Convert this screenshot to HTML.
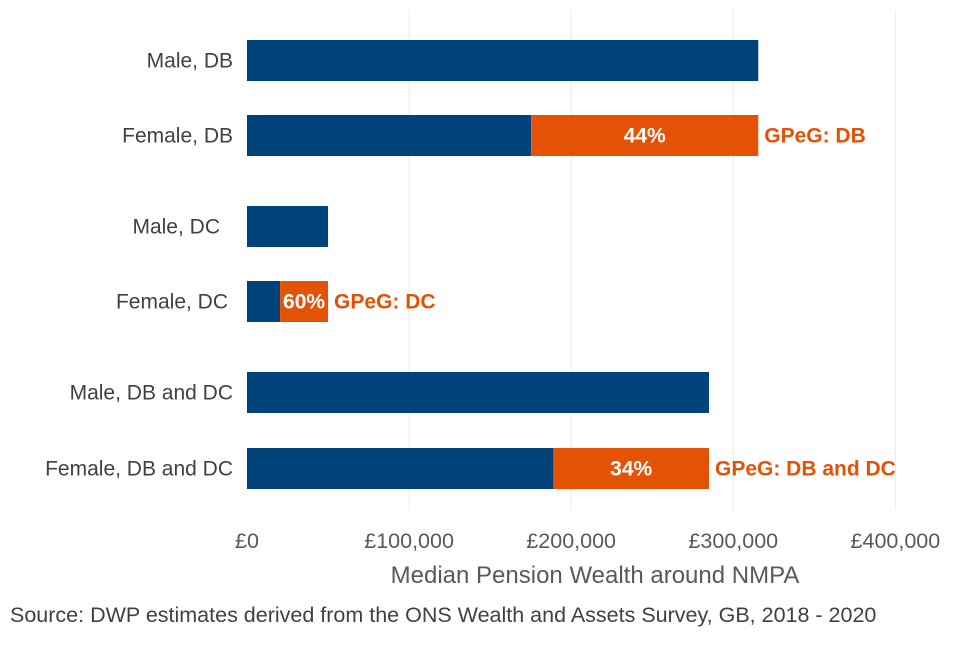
<!DOCTYPE html>
<html><head><meta charset="utf-8"><style>
body{margin:0;background:#fff;}
svg{font-family:"Liberation Sans",Arial,sans-serif;}
</style></head><body>
<svg id="chart" width="960" height="640">
<g id="grid"></g><g id="bars"></g><g id="labels"></g><g id="ticks"></g>
<text x="595" y="583" text-anchor="middle" font-size="24" fill="#595959">Median Pension Wealth around NMPA</text>
<text x="10" y="622" font-size="21.5" fill="#404040">Source: DWP estimates derived from the ONS Wealth and Assets Survey, GB, 2018 - 2020</text>
</svg>
<script>
const categories=["Male, DB","Female, DB","Male, DC","Female, DC","Male, DB and DC","Female, DB and DC"];
const values=[315400,175300,50000,20400,285000,189000];
const gapTotals=[null,315400,null,50000,null,285000];
const gapPct=[null,"44%",null,"60%",null,"34%"];
const gapLabels=[null,"GPeG: DB",null,"GPeG: DC",null,"GPeG: DB and DC"];
const tickVals=[0,100000,200000,300000,400000];
const tickLabels=["£0","£100,000","£200,000","£300,000","£400,000"];
const barTops=[40,115,206,281,372,448];
const labelRight=[233,233,220,228,233,233];
const NS="http://www.w3.org/2000/svg";
const x=v=>247+v*0.001621;
function mk(p,t,a){const e=document.createElementNS(NS,t);for(const k in a)e.setAttribute(k,a[k]);document.getElementById(p).appendChild(e);return e;}
tickVals.forEach((v,i)=>{
 if(i>0){const g=mk('grid','line',{x1:x(v),x2:x(v),y1:10,y2:510,stroke:'#ebebeb','stroke-width':1});
 
 }
 const t=mk('ticks','text',{x:x(v),y:548,'text-anchor':'middle','font-size':21.5,fill:'#595959'});t.textContent=tickLabels[i];
 
 
});
categories.forEach((c,i)=>{
 const y=barTops[i],h=41;
 const b=mk('bars','rect',{x:x(0),y:y,width:x(values[i])-x(0),height:h,fill:'#00427a'});
 
 
 const l=mk('labels','text',{x:labelRight[i],y:y+h/2+7,'text-anchor':'end','font-size':21,fill:'#404040'});l.textContent=c;
 
 
 if(gapTotals[i]!=null){
  const g=mk('bars','rect',{x:x(values[i]),y:y,width:x(gapTotals[i])-x(values[i]),height:h,fill:'#e35205'});
  
  
  const p=mk('labels','text',{x:(x(values[i])+x(gapTotals[i]))/2,y:y+h/2+7,'text-anchor':'middle','font-size':21,'font-weight':'bold',fill:'#fff'});p.textContent=gapPct[i];
  
  
  const q=mk('labels','text',{x:x(gapTotals[i])+6,y:y+h/2+7,'font-size':21,'font-weight':'bold',fill:'#e35205'});q.textContent=gapLabels[i];
  
  
 }
});
</script>
</body></html>
